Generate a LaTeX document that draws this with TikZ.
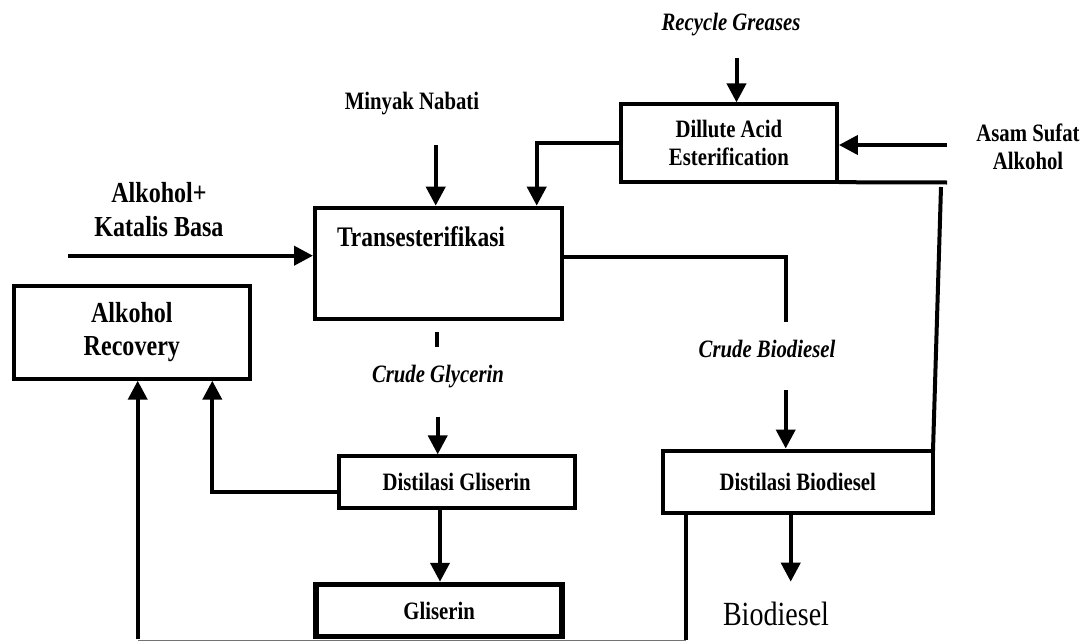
\documentclass[tikz,border=0pt]{standalone}
\usepackage{fontspec}
\setmainfont{Liberation Serif}[FakeStretch=0.83]
\usetikzlibrary{arrows.meta}
\tikzset{
  box/.style={draw, rectangle, line width=4pt, inner sep=0pt, align=center},
  thickbox/.style={box, line width=5.5pt},
  flow/.style={line width=4pt, -{Triangle[width=19pt,length=19pt]}},
  pipe/.style={line width=4pt},
  lbl/.style={font=\bfseries\fontsize{25}{28}\selectfont, align=center, inner sep=0pt},
  ilbl/.style={font=\bfseries\itshape\fontsize{25}{28}\selectfont, inner sep=0pt},
  biglbl/.style={font=\bfseries\fontsize{29}{33}\selectfont, align=center, inner sep=0pt},
  prodlbl/.style={font=\fontsize{33.8}{36}\selectfont, inner sep=0pt},
}
\begin{document}
\begin{tikzpicture}[x=1pt,y=-1pt]
\useasboundingbox (0,0) rectangle (1089,642);

% boxes
\node[box, lbl, minimum width=216pt, minimum height=77.8pt] (dae) at (728.9,143.3) {Dillute Acid\\Esterification};
\node[box, minimum width=247pt, minimum height=110.8pt] (trans) at (438.5,263.1) {};
\node[biglbl, font=\bfseries\fontsize{28.3}{33}\selectfont] (transl) at (421,237) {Transesterifikasi};
\node[box, biglbl, minimum width=236.3pt, minimum height=92.7pt] (alk) at (131.85,332.35) {Alkohol\\Recovery};
\node[box, lbl, minimum width=236pt, minimum height=51.7pt] (dg) at (456.7,482.2) {Distilasi Gliserin};
\node[box, lbl, minimum width=270.5pt, minimum height=62.5pt] (db) at (797.75,481.75) {Distilasi Biodiesel};

% free labels
\node[ilbl] (recycle) at (731,25) {Recycle Greases};
\node[lbl] (asam) at (1028,147) {Asam Sufat\\Alkohol};
\node[lbl] (minyak) at (412,104) {Minyak Nabati};
\node[biglbl, font=\bfseries\fontsize{29}{34}\selectfont] (alkin) at (159,210) {Alkohol+\\Katalis Basa};
\node[ilbl] (cglyc) at (438,377) {Crude Glycerin};
\node[ilbl] (cbio) at (767,349) {Crude Biodiesel};
\node[prodlbl] (biodiesel) at (776,614) {Biodiesel};

% coordinates
\coordinate (rgtop) at (736.5,58);
\coordinate (asin) at (947,145);
\coordinate (dbr) at (947,182.5);
\coordinate (vtop) at (941,187);
\coordinate (tr2) at (536.7,0);
\coordinate (mtop) at (435.7,145);
\coordinate (ain) at (68,255.7);
\coordinate (tre) at (0,256.7);
\coordinate (cbtop) at (785.7,321.7);
\coordinate (cbarr) at (785.7,390);
\coordinate (gs1) at (437.3,331.7);
\coordinate (gs2) at (437.3,346.7);
\coordinate (cgarr) at (437.7,416.7);
\coordinate (x440) at (440,0);
\coordinate (x212) at (212.3,0);
\coordinate (y491) at (0,491.7);
\coordinate (x790) at (790.7,0);
\coordinate (bdtip) at (790.7,581.7);
\coordinate (x685) at (685.5,0);
\coordinate (x138) at (137.7,0);
\coordinate (ybot) at (0,640.3);

% bottom return line (thin)
\draw[black!55, line width=1.3pt] (x685 |- ybot) -- (x138 |- ybot);

\node[thickbox, lbl, minimum width=246pt, minimum height=52pt] (gl) at (439.2,610.5) {Gliserin};

% connectors
\draw[flow] (rgtop) -- (rgtop |- dae.north);
\draw[flow] (asin) -- (asin -| dae.east);
\draw[pipe] ([yshift=2pt]dae.south east) -- (dbr);
\draw[pipe] (vtop) -- ([xshift=-2pt,yshift=-2pt]db.north east);
\draw[flow] (dae.west) -| (tr2 |- trans.north);
\draw[flow] (mtop) -- (mtop |- trans.north);
\draw[flow] (ain) -- (ain -| trans.west);
\draw[pipe] (tre -| trans.east) -| (cbtop);
\draw[flow] (cbarr) -- (cbarr |- db.north);
\draw[pipe] (gs1) -- (gs2);
\draw[flow] (cgarr) -- (cgarr |- dg.north);
\draw[flow] (x440 |- dg.south) -- (x440 |- gl.north);
\draw[flow] (dg.west |- y491) -| (x212 |- alk.south);
\draw[flow] (x790 |- db.south) -- (bdtip);
\draw[pipe] (x685 |- db.south) -- (x685 |- ybot);
\draw[flow] ([yshift=1pt]x138 |- ybot) -- (x138 |- alk.south);
\end{tikzpicture}
\end{document}
